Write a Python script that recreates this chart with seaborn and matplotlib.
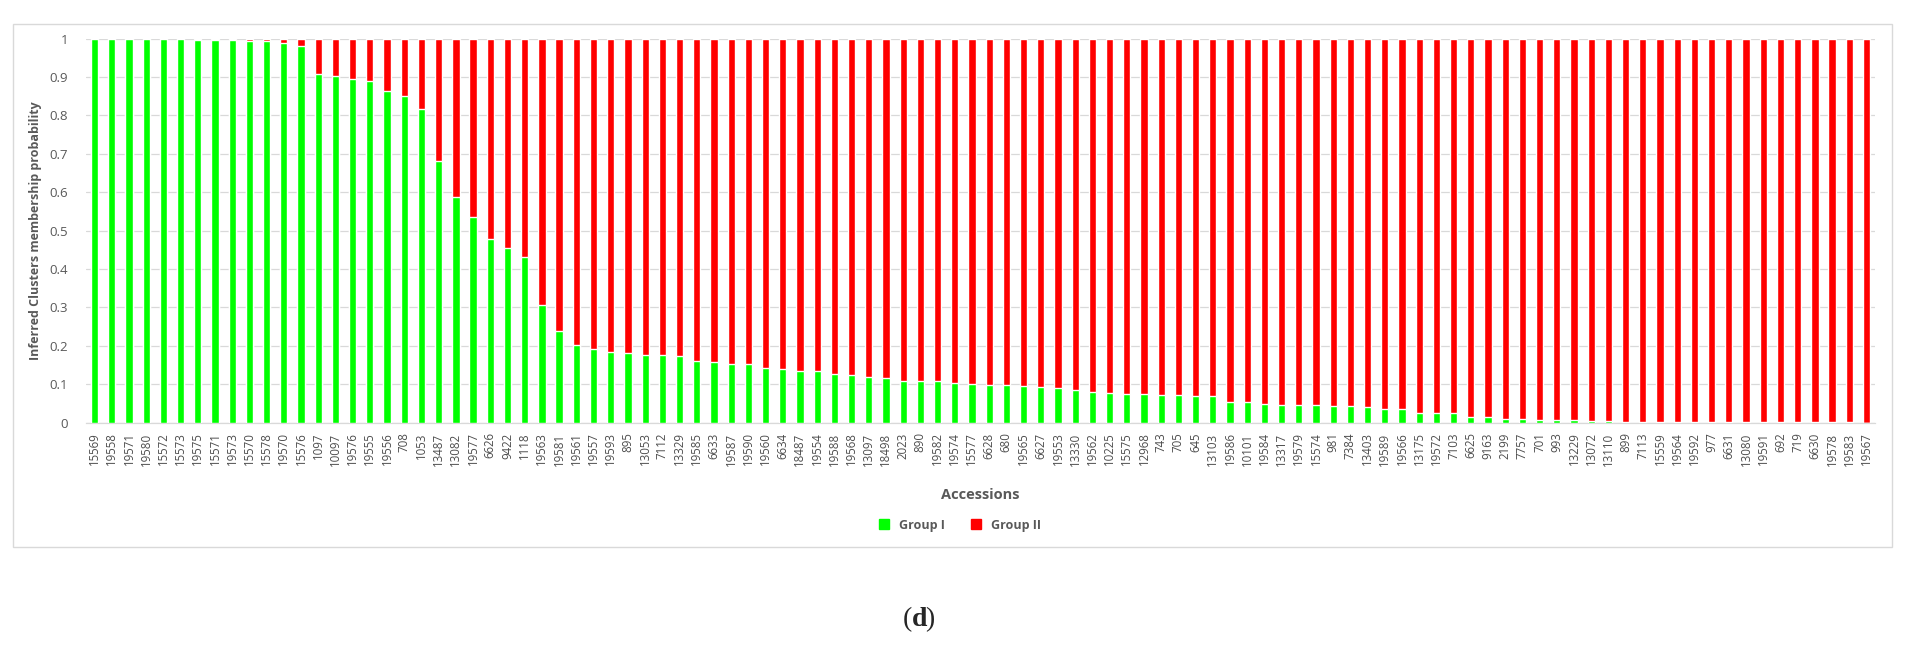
import matplotlib
matplotlib.use("Agg")
import matplotlib.pyplot as plt
from matplotlib.patches import Rectangle
from matplotlib.lines import Line2D
import pandas as pd
import seaborn as sns

sns.set_theme(style="white")
plt.rcParams["font.family"] = ["Open Sans", "DejaVu Sans"]

# accession ids, in chart order
accessions = [
    "15569", "19558", "19571", "19580", "15572", "15573", "19575", "15571", "19573", "15570",
    "15578", "19570", "15576", "1097", "10097", "19576", "19555", "19556", "708", "1053",
    "13487", "13082", "19577", "6626", "9422", "1118", "19563", "19581", "19561", "19557",
    "19593", "895", "13053", "7112", "13329", "19585", "6633", "19587", "19590", "19560",
    "6634", "18487", "19554", "19588", "19568", "13097", "18498", "2023", "890", "19582",
    "19574", "15577", "6628", "680", "19565", "6627", "19553", "13330", "19562", "10225",
    "15575", "12968", "743", "705", "645", "13103", "19586", "10101", "19584", "13317",
    "19579", "15574", "981", "7384", "13403", "19589", "19566", "13175", "19572", "7103",
    "6625", "9163", "2199", "7757", "701", "993", "13229", "13072", "13110", "899",
    "7113", "15559", "19564", "19592", "977", "6631", "13080", "19591", "692", "719",
    "6630", "19578", "19583", "19567",
]

# membership probability of Group I
group_1 = [
    1.000, 1.000, 1.000, 1.000, 0.998, 0.998, 0.997, 0.996, 0.996, 0.995,
    0.995, 0.988, 0.982, 0.908, 0.903, 0.894, 0.890, 0.864, 0.852, 0.817,
    0.682, 0.587, 0.536, 0.478, 0.454, 0.432, 0.306, 0.240, 0.203, 0.193,
    0.185, 0.181, 0.176, 0.175, 0.174, 0.160, 0.159, 0.154, 0.154, 0.143,
    0.140, 0.135, 0.134, 0.127, 0.125, 0.120, 0.116, 0.109, 0.108, 0.108,
    0.103, 0.101, 0.098, 0.097, 0.096, 0.093, 0.090, 0.086, 0.080, 0.077,
    0.076, 0.074, 0.072, 0.071, 0.069, 0.069, 0.054, 0.053, 0.049, 0.047,
    0.047, 0.045, 0.043, 0.043, 0.040, 0.036, 0.036, 0.026, 0.026, 0.025,
    0.015, 0.014, 0.010, 0.010, 0.007, 0.007, 0.007, 0.004, 0.004, 0.003,
    0.003, 0.003, 0.002, 0.002, 0.001, 0.001, 0.001, 0.001, 0.001, 0.001,
    0.001, 0.001, 0.001, 0.000,
]

group_2 = [round(1 - v, 3) for v in group_1]

GREEN = "#00ff00"
RED = "#ff0000"
GREY = "#595959"

df = pd.DataFrame({
    "pos": range(len(accessions)),
    "Accession": accessions,
    "Group I": group_1,
    "Group II": group_2,
})
df["Total"] = df["Group I"] + df["Group II"]

fig = plt.figure(figsize=(19.12, 6.5), dpi=100)
ax = fig.add_axes([0.045, 0.3497, 0.9357, 0.5908])

# stacked: full bar in red, Group I drawn over it in green
sns.barplot(data=df, x="pos", y="Total", color=RED, width=0.42,
            saturation=1, ax=ax, zorder=2)
sns.barplot(data=df, x="pos", y="Group I", color=GREEN, width=0.42,
            saturation=1, ax=ax, zorder=3)

ax.set_xlim(-0.5, len(accessions) - 0.5)
ax.set_ylim(0, 1)
ax.set_yticks([i / 10 for i in range(11)])
ax.set_yticklabels(["0"] + [f"0.{i}" for i in range(1, 10)] + ["1"])
ax.set_xticks(range(len(accessions)))
ax.set_xticklabels(accessions, rotation=90)

ax.tick_params(axis="x", length=0, pad=7, labelsize=8.3, labelcolor="#4d4d4d")
ax.tick_params(axis="y", length=0, pad=13, labelsize=9.5, labelcolor=GREY)

ax.yaxis.grid(True, color="#d9d9d9", linewidth=0.9, zorder=0)
ax.set_axisbelow(True)
for side in ["top", "right", "left"]:
    ax.spines[side].set_visible(False)
ax.spines["bottom"].set_color("#d9d9d9")
ax.spines["bottom"].set_linewidth(0.9)

ax.set_xlabel("Accessions", fontsize=10.5, fontweight="bold", color=GREY, labelpad=16)
ax.set_ylabel("Inferred Clusters membership probability", fontsize=9,
              fontweight="bold", color=GREY, labelpad=5)

# legend below the axis label
handles = [
    Line2D([], [], marker="s", linestyle="", color=GREEN, markersize=7, label="Group I"),
    Line2D([], [], marker="s", linestyle="", color=RED, markersize=7, label="Group II"),
]
leg = fig.legend(handles=handles, loc="center", bbox_to_anchor=(0.5, 1 - 525 / 650),
                 ncol=2, frameon=False, fontsize=9, handletextpad=0.2,
                 columnspacing=1.5)
for t in leg.get_texts():
    t.set_color(GREY)
    t.set_fontweight("bold")

# chart area border
fig.patches.append(Rectangle((13 / 1912, 1 - 547 / 650), (1892 - 13) / 1912, (547 - 24) / 650,
                             transform=fig.transFigure, fill=False,
                             edgecolor="#d9d9d9", linewidth=1.0))

fig.text(912 / 1912, 1 - 620 / 650, "(", fontsize=20, family="Liberation Serif",
         ha="right", va="center")
fig.text(912 / 1912, 1 - 620 / 650, "d", fontsize=20, family="Liberation Serif",
         fontweight="bold", ha="left", va="center")
fig.text(925 / 1912, 1 - 620 / 650, ")", fontsize=20, family="Liberation Serif",
         ha="left", va="center")

fig.savefig("out.png", dpi=100)
plt.close(fig)
